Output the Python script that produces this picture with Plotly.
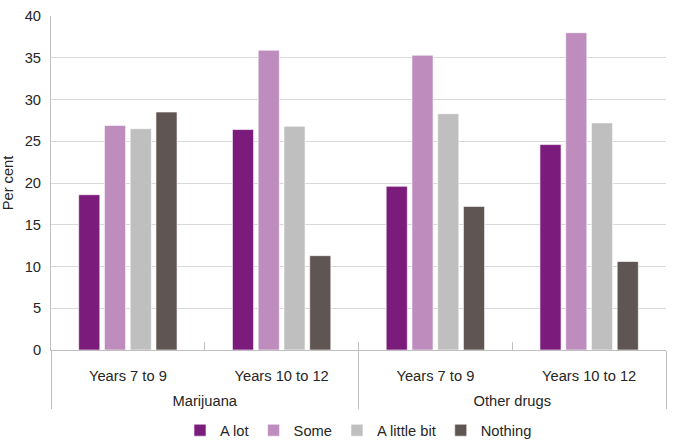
import plotly.graph_objects as go

drug = ["Marijuana", "Marijuana", "Other drugs", "Other drugs"]
years = ["Years 7 to 9", "Years 10 to 12", "Years 7 to 9", "Years 10 to 12"]

a_lot = [18.6, 26.4, 19.6, 24.6]
some = [26.9, 35.9, 35.3, 38.0]
a_little_bit = [26.5, 26.8, 28.3, 27.2]
nothing = [28.5, 11.3, 17.2, 10.6]

series = [
    ("A lot", a_lot, "#7B1C7D"),
    ("Some", some, "#BE8DBE"),
    ("A little bit", a_little_bit, "#BFBFBF"),
    ("Nothing", nothing, "#5F5553"),
]

# outer-level labels get an empty first line to push them down like the original
outer = ["<br>" + d for d in drug]

fig = go.Figure()
for name, vals, color in series:
    fig.add_trace(go.Bar(
        x=[outer, years], y=vals, name=name,
        marker=dict(color=color, line=dict(color="rgba(255,255,255,0.6)", width=1)),
    ))

fig.update_layout(
    width=675, height=443,
    margin=dict(l=51, r=9, t=16, b=93, autoexpand=False),
    paper_bgcolor="white", plot_bgcolor="white",
    font=dict(family="Liberation Sans, Arial, sans-serif", size=14.7, color="#262626"),
    barmode="group", bargap=0.33, bargroupgap=0.18,
    legend=dict(orientation="h", x=0.5, xanchor="center",
                y=-0.192, yanchor="top",
                font=dict(size=14.7), itemwidth=30, traceorder="normal"),
    showlegend=True,
)
fig.update_yaxes(
    range=[0, 40], dtick=5, showgrid=True, gridcolor="#D9D9D9", gridwidth=1,
    showline=True, linecolor="#BFBFBF", linewidth=1, zeroline=False, automargin=False,
    title=dict(text="Per cent", font=dict(size=14.7), standoff=12), ticks="",
    ticklabelstandoff=6,
)
fig.update_xaxes(
    type="multicategory", showline=True, linecolor="#BFBFBF", linewidth=1,
    ticks="inside", ticklen=8, tickcolor="#BFBFBF", automargin=False,
    showdividers=True, dividercolor="#BFBFBF", dividerwidth=1,
    ticklabelstandoff=12,
)

fig.write_html("out.html", config={"displayModeBar": False},
               post_script="document.body.style.margin='0';")
